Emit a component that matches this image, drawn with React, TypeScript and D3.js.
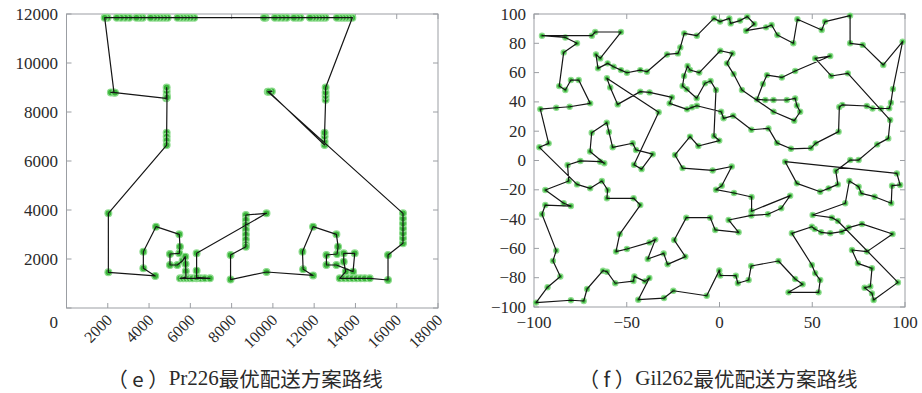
import * as d3 from 'd3'

const W = 922
const H = 393

// ---- Pr226 (left panel) ----
const prXTicks = [0, 2000, 4000, 6000, 8000, 10000, 12000, 14000, 16000, 18000]
const prYTicks = [0, 2000, 4000, 6000, 8000, 10000, 12000]
const prCaption = ['（ e ）', 'Pr226', '最优配送方案路线']

// tour, in data units
const prRoute: [number, number][] = [
  [13850, 11850], [13700, 11850], [13550, 11850], [13400, 11850], [13250, 11850], [13100, 11850],
  [12550, 11850], [12400, 11850], [12250, 11850], [12100, 11850], [11950, 11850], [11800, 11850],
  [11340, 11850], [11180, 11850], [11020, 11850],
  [10670, 11850], [10480, 11850], [10290, 11850], [10100, 11850],
  [9650, 11850], [9570, 11850],
  [6185, 11850], [6020, 11850], [5860, 11850], [5700, 11850], [5540, 11850], [5380, 11850],
  [4900, 11850], [4740, 11850], [4570, 11850], [4410, 11850], [4250, 11850], [4080, 11850],
  [3690, 11850], [3540, 11850], [3390, 11850],
  [3040, 11850], [2840, 11850], [2640, 11850], [2440, 11850],
  [1990, 11850], [1850, 11850],
  [2300, 8800], [2150, 8800], [2350, 8790],
  [4830, 8560], [4853, 8700], [4853, 8850], [4853, 9000], [4870, 8600],
  [4853, 7150], [4853, 7000], [4853, 6850], [4853, 6650],
  [2028, 3866], [2028, 1457], [4300, 1310], [3723, 1619], [3723, 2299], [4336, 3320], [5465, 3007],
  [5497, 2504], [5465, 2232], [5013, 2204], [5013, 1755], [5368, 1755], [5626, 1932], [5755, 2095],
  [5770, 1800], [5780, 1500], [5788, 1252],
  [5500, 1211], [5650, 1211], [5800, 1211], [5950, 1211], [6100, 1211], [6300, 1211], [6500, 1211],
  [6700, 1211], [6950, 1211], [6304, 1250], [6304, 1524], [6304, 2232],
  [9691, 3864], [8691, 3796], [8691, 3600], [8691, 3400], [8691, 3200], [8691, 3000], [8691, 2800],
  [8691, 2600], [8691, 2504],
  [7949, 2163], [7949, 1160], [9691, 1470], [11948, 1330], [11465, 1578], [11433, 2299], [11948, 3320],
  [13078, 3007], [13159, 2504], [13110, 2204], [12594, 2163], [12594, 1755], [13078, 1755],
  [13885, 1483], [13965, 2232], [13433, 2232], [13433, 1891], [13530, 1483],
  [13239, 1211], [13450, 1211], [13650, 1211], [13850, 1211], [14050, 1211], [14250, 1211],
  [14450, 1211], [14691, 1211],
  [15578, 1143], [15578, 2163], [16304, 2640], [16304, 2850], [16304, 3050], [16304, 3250],
  [16304, 3450], [16304, 3650], [16304, 3864],
  [9750, 8830], [9950, 8840], [9800, 8830],
  [12506, 6654], [12506, 6800], [12506, 7000], [12506, 7150],
  [12555, 8500], [12555, 8650], [12555, 8800], [12555, 9000],
]

// ---- Gil262 (right panel) ----
const gilXTicks = [-100, -50, 0, 50, 100]
const gilYTicks = [-100, -80, -60, -40, -20, 0, 20, 40, 60, 80, 100]
const gilCaption = ['（ f ）', 'Gil262', '最优配送方案路线']

const gilRoute: [number, number][] = [
  [-95.7, 85.2], [-68.8, 85.2], [-67.0, 87.7], [-53.1, 87.7], [-64.3, 69.7], [-66.6, 72.4],
  [-65.5, 62.9], [-60.3, 66.3], [-57.1, 64.0], [-53.1, 61.7], [-49.9, 59.9], [-42.7, 61.7],
  [-39.1, 60.6], [-28.3, 72.4], [-22.4, 73.1], [-21.1, 77.2], [-19.0, 86.8], [-12.2, 85.2],
  [-3.0, 97.0], [0.3, 94.8], [5.3, 97.0], [6.0, 93.6], [11.1, 95.5], [15.0, 98.2], [18.8, 93.2],
  [14.3, 88.6], [25.1, 90.9], [28.1, 92.5], [31.2, 85.7], [39.8, 80.0], [42.0, 96.4], [55.1, 89.1],
  [56.9, 94.8], [70.4, 98.9], [70.4, 80.0], [77.2, 78.9], [88.3, 65.2], [98.7, 81.1], [93.5, 48.8],
  [92.4, 39.5], [91.5, 35.6], [87.0, 35.5], [82.5, 35.5], [79.4, 37.2], [66.2, 38.0], [64.6, 36.5],
  [64.2, 19.7], [51.8, 11.7], [49.3, 8.5], [38.5, 8.0], [31.0, 12.0], [26.4, 21.9], [17.2, 21.0],
  [7.4, 30.6], [2.2, 28.8], [0.9, 33.3],
  [-12.2, 37.4], [-14.8, 36.3], [-17.5, 34.9], [-26.9, 39.0], [-25.6, 43.1], [-37.7, 46.5],
  [-42.7, 47.0], [-54.9, 38.3], [-58.9, 49.9], [-60.7, 56.1], [-32.8, 32.9],
  [-46.1, -2.9], [-42.0, -5.9], [-36.0, 4.3], [-45.0, 7.2], [-46.8, 11.8], [-57.6, 9.0], [-59.6, 19.5],
  [-60.8, 25.8], [-68.9, 19.0], [-69.8, 6.1], [-62.1, -1.9], [-64.3, -0.8], [-75.0, -0.3], [-81.9, -3.1],
  [-81.3, -14.0], [-93.9, -20.1], [-84.0, -29.2], [-80.1, -31.1], [-93.9, -30.4], [-95.7, -36.7],
  [-88.0, -61.5], [-89.8, -68.5], [-85.8, -79.2], [-92.7, -86.5], [-98.9, -97.0],
  [-80.1, -95.4], [-73.2, -95.9], [-71.4, -87.7], [-62.8, -75.2], [-60.7, -75.9], [-56.2, -83.8],
  [-46.4, -82.3], [-45.9, -79.1], [-40.2, -82.5], [-37.8, -80.2], [-43.8, -95.0], [-29.9, -93.9],
  [-24.9, -88.9], [-6.9, -92.3], [-0.1, -75.0], [0.4, -78.5], [8.8, -78.6], [9.9, -83.8], [15.7, -81.6],
  [17.1, -72.0], [31.8, -68.6], [40.8, -80.9], [44.8, -84.5], [37.2, -90.0], [53.4, -90.0],
  [54.3, -81.6], [51.6, -77.0], [49.8, -71.3], [39.0, -49.7],
  [49.8, -45.2], [51.3, -46.8], [54.8, -49.0], [59.7, -49.7], [66.0, -48.6], [69.6, -45.8],
  [76.8, -43.3], [93.3, -50.2], [79.5, -62.2], [71.4, -61.1], [74.6, -70.2], [82.2, -73.6],
  [81.3, -86.0], [78.2, -86.8], [82.2, -90.7], [83.1, -95.2], [96.2, -83.2],
  [63.8, -41.3], [60.6, -39.0], [50.2, -37.2], [67.8, -29.2], [70.0, -14.0], [75.0, -17.9],
  [76.4, -22.4], [83.6, -24.7], [92.6, -29.2], [93.0, -17.2], [97.4, -16.7], [95.6, -8.8],
  [35.4, -0.8], [41.7, -15.6], [54.3, -21.3], [58.8, -19.0], [63.8, -16.3], [62.7, -7.2],
  [70.5, 0.3], [75.0, 0.3], [85.0, 11.0], [91.0, 15.1], [92.0, 27.6],
  [69.2, 59.5], [60.2, 57.7], [51.6, 69.7], [59.7, 71.3], [40.8, 61.1], [33.6, 56.7], [25.6, 58.3],
  [23.4, 52.2], [20.2, 41.7], [24.7, 41.3], [29.1, 41.3], [36.3, 41.3], [40.8, 42.4], [41.7, 37.5],
  [43.5, 33.3], [40.3, 27.2], [29.1, 33.3], [12.1, 48.1], [7.6, 59.0], [4.0, 66.3], [7.0, 73.1],
  [0.4, 74.9],
  [-10.9, 60.0], [-15.9, 61.8], [-17.2, 64.5], [-19.1, 57.7], [-19.9, 50.9], [-17.7, 48.6],
  [-12.3, 42.5], [-7.8, 52.7], [-4.8, 54.3], [-1.9, 48.2],
  [-3.0, 16.7], [-0.1, 13.6], [-11.4, 9.9], [-15.9, 16.3], [-24.0, 3.8], [-19.9, -5.2], [-3.7, -6.8],
  [6.6, -4.1], [1.2, -17.2], [-1.9, -19.9], [7.8, -22.2], [17.3, -24.9], [17.3, -34.6],
  [38.1, -24.0], [33.3, -32.6], [26.1, -36.7], [17.2, -37.5], [4.9, -40.6], [10.3, -49.0], [-2.3, -47.4],
  [-5.0, -39.0], [-17.9, -39.0], [-24.4, -54.3], [-18.4, -65.6], [-28.0, -70.9], [-30.1, -63.4],
  [-38.7, -67.2], [-34.6, -54.0], [-37.7, -55.9], [-49.9, -60.4], [-55.8, -62.2], [-53.8, -50.2],
  [-42.7, -30.4], [-46.3, -25.8], [-60.7, -25.8], [-60.3, -20.1], [-63.4, -14.0], [-69.7, -19.0],
  [-76.8, -16.3],
  [-97.1, 9.0], [-92.1, 11.7], [-96.6, 35.1], [-88.0, 36.0], [-80.8, 36.7], [-69.7, 39.0],
  [-75.9, 54.9], [-80.1, 54.9], [-83.1, 48.1], [-86.4, 50.8], [-84.0, 73.8], [-76.8, 80.0],
  [-83.1, 84.0],
]

const SERIF = '"Liberation Serif", "DejaVu Serif", serif'
const CJK = '"Noto Sans CJK SC", sans-serif'
const BOX = '#9b9ea3'
const INK = '#2a2a2a'
const DOT = '#3bb53b'
const HALO = '#8fdc8f'
const minus = (v: number) => String(v).replace('-', '−')

type PanelProps = {
  x: d3.ScaleLinear<number, number>
  y: d3.ScaleLinear<number, number>
  xTicks: number[]
  yTicks: number[]
  route: [number, number][]
  r: number
}

function Panel({ x, y, xTicks, yTicks, route, r }: PanelProps) {
  const [x0, x1] = x.range()
  const [y0, y1] = y.range() // bottom, top
  const tk = 5
  const path = d3.line<[number, number]>()
    .x((d) => x(d[0])).y((d) => y(d[1]))
    .curve(d3.curveLinearClosed)(route) ?? ''
  return (
    <g>
      <rect x={x0} y={y1} width={x1 - x0} height={y0 - y1} fill="none" stroke={BOX} strokeWidth={1} />
      {xTicks.map((t) => (
        <g key={'x' + t} stroke={BOX}>
          <line x1={x(t)} x2={x(t)} y1={y0} y2={y0 - tk} />
          <line x1={x(t)} x2={x(t)} y1={y1} y2={y1 + tk} />
        </g>
      ))}
      {yTicks.map((t) => (
        <g key={'y' + t} stroke={BOX}>
          <line x1={x0} x2={x0 + tk} y1={y(t)} y2={y(t)} />
          <line x1={x1} x2={x1 - tk} y1={y(t)} y2={y(t)} />
        </g>
      ))}
      {route.map((d, i) => (
        <circle key={i} cx={x(d[0])} cy={y(d[1])} r={r} fill={DOT} stroke={HALO} strokeWidth={1.2} />
      ))}
      <path d={path} fill="none" stroke="#151515" strokeWidth={1.2} strokeLinejoin="round" />
    </g>
  )
}

function Caption({ x, parts }: { x: number; parts: string[] }) {
  return (
    <text x={x} y={378} textAnchor="middle" dominantBaseline="central" fontSize={20.5} fill={INK}>
      <tspan fontFamily={CJK}>{parts[0]}</tspan>
      <tspan fontFamily={SERIF} fontSize={21}>{parts[1]}</tspan>
      <tspan fontFamily={CJK}>{parts[2]}</tspan>
    </text>
  )
}

export default function App() {
  const prX = d3.scaleLinear().domain([0, 18000]).range([66.5, 438])
  const prY = d3.scaleLinear().domain([0, 12000]).range([308, 14])
  const gilX = d3.scaleLinear().domain([-100, 100]).range([534, 905])
  const gilY = d3.scaleLinear().domain([-100, 100]).range([307, 14])

  return (
    <div style={{ position: 'absolute', left: 0, top: 0, width: W, height: H, background: '#fff' }}>
      <svg width={W} height={H} style={{ display: 'block' }}>
        <Panel x={prX} y={prY} xTicks={prXTicks} yTicks={prYTicks} route={prRoute} r={3.4} />
        <Panel x={gilX} y={gilY} xTicks={gilXTicks} yTicks={gilYTicks} route={gilRoute} r={2.6} />

        {/* left panel tick labels */}
        <g fontFamily={SERIF} fill={INK}>
          {prYTicks.map((t) => (
            <text key={t} x={58} y={t === 0 ? 322 : prY(t)} textAnchor="end" dominantBaseline="central" fontSize={17}>
              {t}
            </text>
          ))}
          {prXTicks.filter((t) => t > 0).map((t) => (
            <text key={t} transform={`translate(${prX(t) + 5.5},321) rotate(-45)`} textAnchor="end" fontSize={16}>
              {t}
            </text>
          ))}
        </g>

        {/* right panel tick labels */}
        <g fontFamily={SERIF} fill={INK} fontSize={17}>
          {gilYTicks.map((t) => (
            <text key={t} x={526} y={gilY(t)} textAnchor="end" dominantBaseline="central">{minus(t)}</text>
          ))}
          {gilXTicks.map((t) => (
            <text key={t} x={gilX(t)} y={322} textAnchor="middle" dominantBaseline="central">{minus(t)}</text>
          ))}
        </g>

        <Caption x={245} parts={prCaption} />
        <Caption x={718} parts={gilCaption} />
      </svg>
    </div>
  )
}
